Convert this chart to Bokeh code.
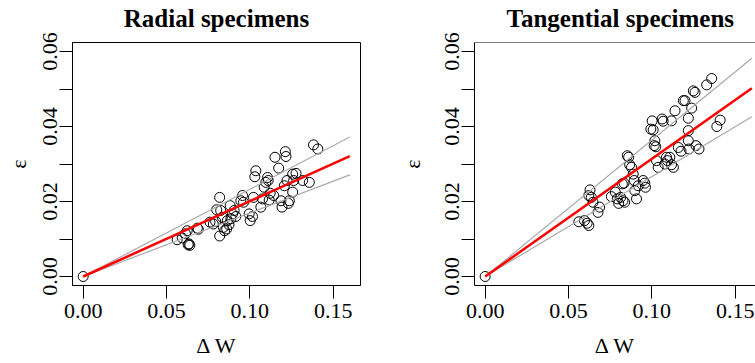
from bokeh.plotting import figure
from bokeh.layouts import row
from bokeh.models import FixedTicker, Range1d, Span, Title
from bokeh.embed import file_html
from bokeh.resources import INLINE

# ---------------- data ----------------
radial_x = [0.0, 0.0564, 0.0594, 0.0614, 0.0624, 0.0635, 0.0640, 0.0630, 0.0685, 0.0691,
            0.0761, 0.0781, 0.0795, 0.0801, 0.0819, 0.0819, 0.0825, 0.0835, 0.0841, 0.0849,
            0.0861, 0.0865, 0.0875, 0.0882, 0.0886, 0.0896, 0.0906, 0.0916, 0.0946, 0.0956,
            0.0962, 0.0996, 0.1002, 0.1016, 0.1022, 0.1030, 0.1036, 0.1066, 0.1076, 0.1086,
            0.1096, 0.1106, 0.1110, 0.1116, 0.1122, 0.1143, 0.1151, 0.1173, 0.1187, 0.1193,
            0.1207, 0.1213, 0.1217, 0.1223, 0.1231, 0.1237, 0.1257, 0.1257, 0.1263, 0.1277,
            0.1317, 0.1357, 0.1382, 0.1408]
radial_y = [0.0, 0.0098, 0.0103, 0.0114, 0.0122, 0.0087, 0.0083, 0.0085, 0.0129, 0.0126,
            0.0145, 0.0140, 0.0147, 0.0178, 0.0211, 0.0108, 0.0176, 0.0158, 0.0131, 0.0122,
            0.0127, 0.0149, 0.0138, 0.0189, 0.0154, 0.0167, 0.0176, 0.0160, 0.0202, 0.0216,
            0.0198, 0.0167, 0.0149, 0.0160, 0.0211, 0.0266, 0.0282, 0.0185, 0.0207, 0.0238,
            0.0251, 0.0264, 0.0256, 0.0204, 0.0222, 0.0216, 0.0318, 0.0289, 0.0202, 0.0185,
            0.0242, 0.0333, 0.0320, 0.0256, 0.0195, 0.0202, 0.0225, 0.0273, 0.0256, 0.0275,
            0.0256, 0.0251, 0.0351, 0.0340]

tang_x = [0.0, 0.0562, 0.0596, 0.0612, 0.0622, 0.0629, 0.0622, 0.0637, 0.0647, 0.0677,
          0.0687, 0.0757, 0.0781, 0.0793, 0.0801, 0.0813, 0.0827, 0.0837, 0.0823, 0.0833,
          0.0853, 0.0861, 0.0867, 0.0878, 0.0888, 0.0894, 0.0898, 0.0908, 0.0918, 0.0948,
          0.0958, 0.0962, 0.0994, 0.1002, 0.1008, 0.1014, 0.1018, 0.1024, 0.1028, 0.1038,
          0.1062, 0.1068, 0.1078, 0.1088, 0.1094, 0.1108, 0.1118, 0.1129, 0.1118, 0.1139,
          0.1159, 0.1175, 0.1189, 0.1199, 0.1219, 0.1219, 0.1219, 0.1223, 0.1239, 0.1259,
          0.1249, 0.1265, 0.1283, 0.1329, 0.1359, 0.1390, 0.1410]
tang_y = [0.0, 0.0146, 0.0149, 0.0142, 0.0136, 0.0231, 0.0216, 0.0211, 0.0198, 0.0171,
          0.0185, 0.0213, 0.0225, 0.0207, 0.0195, 0.0211, 0.0202, 0.0198, 0.0247, 0.0249,
          0.0322, 0.0318, 0.0298, 0.0291, 0.0273, 0.0256, 0.0229, 0.0207, 0.0242, 0.0256,
          0.0249, 0.0238, 0.0393, 0.0415, 0.0391, 0.0349, 0.0362, 0.0346, 0.0309, 0.0291,
          0.0420, 0.0414, 0.0300, 0.0318, 0.0309, 0.0318, 0.0298, 0.0291, 0.0415, 0.0442,
          0.0344, 0.0334, 0.0469, 0.0469, 0.0389, 0.0422, 0.0362, 0.0340, 0.0449, 0.0491,
          0.0495, 0.0349, 0.0340, 0.0511, 0.0528, 0.0400, 0.0417]

# fitted lines (through origin) and their bands, at x = 0 and x = 0.16
fit_x = [0.0, 0.16]
radial_fit = [0.0, 0.0321]
radial_lo = [0.0, 0.0271]
radial_hi = [0.0, 0.0372]
tang_fit = [0.0, 0.0502]
tang_lo = [0.0, 0.0426]
tang_hi = [0.0, 0.0582]

x_ticks = [0.0, 0.05, 0.10, 0.15]
x_labels = ["0.00", "0.05", "0.10", "0.15"]
y_ticks = [0.0, 0.01, 0.02, 0.03, 0.04, 0.05, 0.06]
y_labels = ["0.00", "", "0.02", "", "0.04", "", "0.06"]

titles = ["Radial specimens", "Tangential specimens"]
x_title = "\u0394 W"
y_title = "\u03b5"

FONT = "Liberation Serif"
H = 363
X0, Y0, Y1 = -0.0064, -0.0024, 0.0624


def make(title, xs, ys, fit, lo, hi, width, border_left, border_right, x_end,
         full_box, title_align, title_offset, ylab_standoff):
    p = figure(width=width, height=H, output_backend="svg", toolbar_location=None,
               title=None,
               x_range=Range1d(X0, x_end), y_range=Range1d(Y0, Y1),
               min_border_left=border_left, min_border_right=border_right,
               min_border_top=42, min_border_bottom=78)
    # spacer between the title and the frame (first added = closest to frame)
    p.add_layout(Title(text=" ", text_font_size="1px", standoff=8), "above")
    p.add_layout(Title(text=title, text_font=FONT, text_font_size="25px",
                       text_font_style="bold", text_color="black",
                       align=title_align, offset=title_offset, standoff=0), "above")
    p.grid.visible = False
    p.background_fill_color = "white"
    p.border_fill_color = "white"
    if full_box:
        p.outline_line_color = "black"
        p.outline_line_width = 1
        p.outline_line_alpha = 1
    else:
        p.outline_line_color = None
        p.add_layout(Span(location=Y1, dimension="width",
                          line_color="black", line_width=1))

    for ax in (p.xaxis[0], p.yaxis[0]):
        ax.axis_line_color = "black"
        ax.major_tick_line_color = "black"
        ax.major_tick_out = 13
        ax.major_tick_in = 0
        ax.minor_tick_line_color = None
        ax.major_label_text_font = FONT
        ax.major_label_text_font_size = "22px"
        ax.major_label_text_color = "black"
        ax.axis_label_text_font = FONT
        ax.axis_label_text_font_size = "22px"
        ax.axis_label_text_font_style = "normal"
        ax.axis_label_text_color = "black"

    p.xaxis.ticker = FixedTicker(ticks=x_ticks)
    p.xaxis.major_label_overrides = {t: l for t, l in zip(x_ticks, x_labels)}
    p.xaxis.major_label_standoff = 5
    p.xaxis.axis_label = x_title
    p.xaxis.axis_label_standoff = 12

    p.yaxis.ticker = FixedTicker(ticks=y_ticks)
    p.yaxis.major_label_overrides = {t: l for t, l in zip(y_ticks, y_labels)}
    p.yaxis.major_label_orientation = "vertical"
    p.yaxis.major_label_standoff = 3
    p.yaxis.axis_label = y_title
    p.yaxis.axis_label_standoff = ylab_standoff

    p.scatter(xs, ys, marker="circle", size=10, fill_color=None,
              line_color="black", line_width=1)
    p.line(fit_x, lo, line_color="#aaaaaa", line_width=1.2)
    p.line(fit_x, hi, line_color="#aaaaaa", line_width=1.2)
    p.line(fit_x, fit, line_color="#ff0000", line_width=2.5)
    return p


left = make(titles[0], radial_x, radial_y, radial_fit, radial_lo, radial_hi,
            width=377, border_left=72, border_right=17, x_end=0.1664, full_box=True,
            title_align="center", title_offset=0, ylab_standoff=9)
right = make(titles[1], tang_x, tang_y, tang_fit, tang_lo, tang_hi,
             width=378, border_left=97, border_right=0, x_end=0.1622, full_box=False,
             title_align="left", title_offset=32, ylab_standoff=17)

layout = row(left, right)
open("out.html", "w").write(file_html(layout, INLINE))
